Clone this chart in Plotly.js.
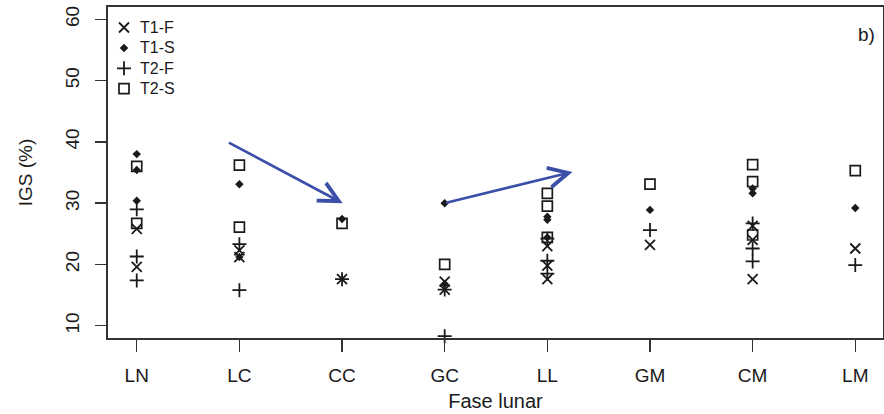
<!DOCTYPE html>
<html>
<head>
<meta charset="utf-8">
<script src="https://cdn.plot.ly/plotly-3.0.1.min.js"></script>
<style>html,body{margin:0;padding:0;background:#fff;}#chart{width:884px;height:414px;}</style>
</head>
<body>
<div id="chart"></div>
<script>
// Categories (lunar phases)
var categories = ['LN','LC','CC','GC','LL','GM','CM','LM'];

// T1-F
var t1f_x = ['LN','LN','LC','LC','CC','GC','GC','LL','LL','LL','GM','CM','CM','CM','LM'];
var t1f_y = [25.8,19.6,22.3,21.2,17.6,17.2,15.9,23.0,19.8,17.6,23.2,26.3,24.0,17.6,22.6];

// T1-S
var t1s_x = ['LN','LN','LN','LC','LC','CC','GC','GC','LL','LL','LL','GM','CM','CM','LM'];
var t1s_y = [38.0,35.4,30.4,33.1,21.2,27.4,30.0,16.8,27.8,27.3,24.4,28.9,32.4,31.6,29.2];

// T2-F
var t2f_x = ['LN','LN','LN','LC','LC','CC','GC','GC','LL','LL','LL','GM','CM','CM','CM','LM'];
var t2f_y = [29.0,21.3,17.4,23.3,15.8,17.6,15.9,8.3,24.2,20.6,18.5,25.6,26.7,22.6,20.5,19.9];

// T2-S
var t2s_x = ['LN','LN','LC','LC','CC','GC','LL','LL','LL','GM','CM','CM','CM','LM'];
var t2s_y = [36.0,26.7,36.2,26.1,26.7,20.0,31.6,29.5,24.4,33.1,36.3,33.5,24.8,35.3];

// Series names and Y ticks
var seriesNames = ['T1-F','T1-S','T2-F','T2-S'];
var yTicks = [10,20,30,40,50,60];

var ink = '#1a1a1a';
var font = 'Liberation Sans, Arial, sans-serif';

var markerStyles = [
  {symbol:'x-thin-open', size:10, color:ink, line:{color:ink, width:1.8}},
  {symbol:'diamond', size:6.5, color:ink, line:{width:0}},
  {symbol:'cross-thin-open', size:10, color:ink, line:{color:ink, width:1.8}},
  {symbol:'square-open', size:10, color:ink, line:{color:ink, width:1.7}}
];
var xs = [t1f_x, t1s_x, t2f_x, t2s_x];
var ys = [t1f_y, t1s_y, t2f_y, t2s_y];

var traces = [];
for (var i = 0; i < seriesNames.length; i++) {
  traces.push({x:xs[i], y:ys[i], name:seriesNames[i], type:'scatter', mode:'markers',
               marker:markerStyles[i], showlegend:false, cliponaxis:false});
}
// Legend drawn on an overlay axis measured in plot-area pixels
var legendRowStart = 20.5, legendRowGap = 20.4, legendSymX = 16, legendTextX = 30;
var legAnn = [];
for (var j = 0; j < seriesNames.length; j++) {
  traces.push({x:[legendSymX], y:[legendRowStart + j*legendRowGap], xaxis:'x2', yaxis:'y2',
               type:'scatter', mode:'markers', marker:markerStyles[j], showlegend:false, hoverinfo:'skip'});
  legAnn.push({x:legendTextX, y:legendRowStart + j*legendRowGap, xref:'x2', yref:'y2',
               xanchor:'left', yanchor:'middle', text:seriesNames[j], showarrow:false,
               font:{size:16, family:font, color:ink}});
}

var arrowColor = '#3b4ea8';

var layout = {
  width:884, height:414,
  margin:{l:108, r:1, t:7, b:76},
  paper_bgcolor:'#fff', plot_bgcolor:'#fff',
  showlegend:false,
  font:{family:font, color:ink},
  xaxis:{
    type:'category', categoryorder:'array', categoryarray:categories,
    range:[-0.28, 7.27], showgrid:false, zeroline:false,
    showline:true, mirror:true, linecolor:'#333', linewidth:1.6,
    ticks:'outside', ticklen:12, tickwidth:1.5, tickcolor:'#333', ticklabelstandoff:8,
    tickfont:{size:19, family:font, color:ink},
    title:{text:'Fase lunar', font:{size:20, family:font, color:ink}, standoff:8}
  },
  yaxis:{
    range:[8,62], tickvals:yTicks, ticktext:yTicks.map(String), tickangle:-90,
    showgrid:false, zeroline:false,
    showline:true, mirror:true, linecolor:'#333', linewidth:1.6,
    ticks:'outside', ticklen:11, tickwidth:1.5, tickcolor:'#333', ticklabelstandoff:9,
    tickfont:{size:19, family:font, color:ink},
    title:{text:'IGS (%)', font:{size:19, family:font, color:ink}, standoff:24}
  },
  xaxis2:{overlaying:'x', anchor:'y2', range:[0,775], visible:false, fixedrange:true},
  yaxis2:{overlaying:'y', anchor:'x2', range:[331,0], visible:false, fixedrange:true},
  annotations:[
    {x:2.006, y:30.0, ax:0.883, ay:40.0, xref:'x', yref:'y', axref:'x', ayref:'y',
     showarrow:true, arrowhead:5, arrowsize:1.5, arrowwidth:2.6, arrowcolor:arrowColor, text:''},
    {x:4.245, y:35.1, ax:3.0, ay:30.0, xref:'x', yref:'y', axref:'x', ayref:'y',
     showarrow:true, arrowhead:5, arrowsize:1.5, arrowwidth:2.6, arrowcolor:arrowColor, text:''},
    {x:0.992, y:0.955, xref:'paper', yref:'paper', xanchor:'right', yanchor:'top',
     text:'b)', showarrow:false, font:{size:19, family:font, color:ink}}
  ].concat(legAnn)
};

Plotly.newPlot('chart', traces, layout, {displayModeBar:false, staticPlot:true});
</script>
</body>
</html>
